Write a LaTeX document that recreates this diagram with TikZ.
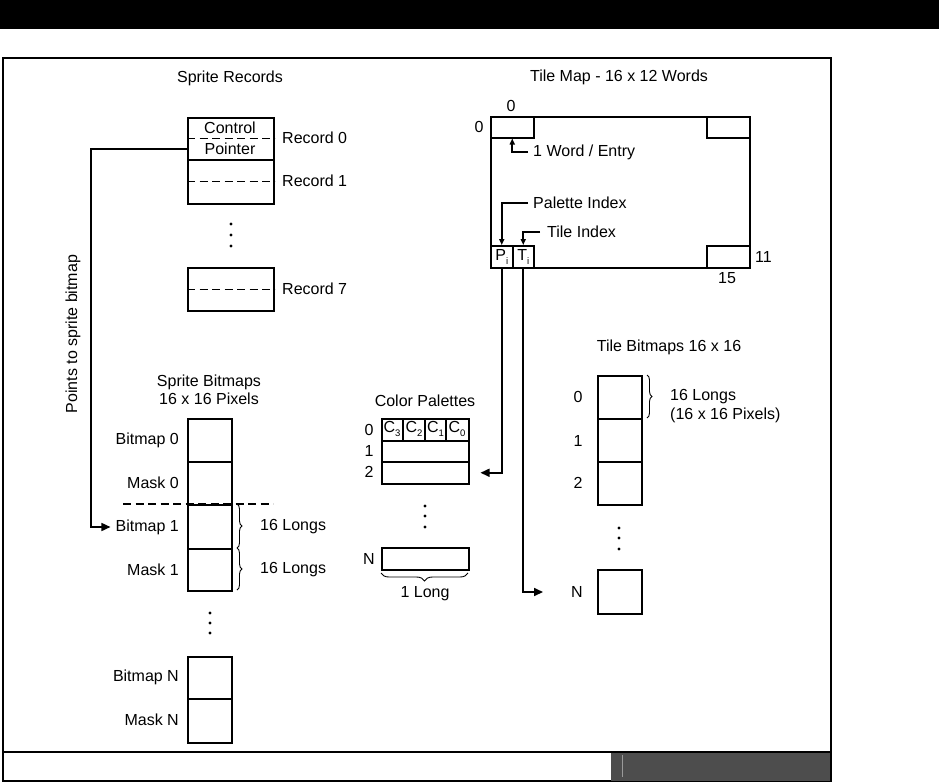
\documentclass[tikz,border=0pt]{standalone}
\usepackage{fontspec}
\setmainfont{Liberation Sans}
\usetikzlibrary{arrows.meta,decorations.pathreplacing}
\newcommand\subi[1]{\raisebox{-0.45ex}{\fontsize{9.5}{9.5}\selectfont #1}}
\definecolor{stripgray}{HTML}{4D4D4D}
\definecolor{stripline}{HTML}{9A9A9A}
\begin{document}
\begin{tikzpicture}[x=1pt,y=-1pt,
  cell/.style={draw, line width=1.5pt, inner sep=0pt, anchor=north west},
  lbl/.style={font=\fontsize{16}{18}\selectfont, inner sep=0pt},
  dashline/.style={line width=1.2pt, dash pattern=on 8pt off 4.5pt},
  conn/.style={line width=1.6pt, -{Triangle[length=9pt,width=8pt]}},
  sconn/.style={line width=1.6pt, -{Triangle[length=6pt,width=5pt]}},
  brace/.style={decorate, decoration={brace, amplitude=5pt}, line width=0.9pt},
  dot/.style={circle, fill, inner sep=0pt, minimum size=3.4pt}
]
\useasboundingbox (0,0) rectangle (939,782);
% header band and frame
\fill[black] (0,0) rectangle (939,29);
\draw[line width=1.5pt] (3,58) rectangle (831,781);
\fill[stripgray] (611,752) rectangle (831,781);
\draw[line width=1.5pt] (3,752) -- (831,752);
\draw[line width=1.5pt] (831,752) -- (831,781);
\draw[stripline, line width=1pt] (622,755) -- (622,777);

% ---------------- Sprite records
\node[lbl] (srtitle) at (230,78) {Sprite Records};
\node[cell, minimum width=86, minimum height=42] (r0) at (187,117) {};
\node[cell, minimum width=86, minimum height=44] (r1) at (187,159) {};
\draw[dashline] (r0.west) -- (r0.east);
\draw[dashline] (r1.west) -- (r1.east);
\node[lbl] (ctrl) at (230,127.5) {Control};
\node[lbl] (ptrtxt) at (230,149) {Pointer};
\node[lbl, anchor=west] (rec0) at (282,138) {Record 0};
\node[lbl, anchor=west] (rec1) at (282,181) {Record 1};
\node[dot] (rd1) at (231,224) {};
\node[dot] (rd2) at (231,235) {};
\node[dot] (rd3) at (231,246) {};
\node[cell, minimum width=86, minimum height=43] (r7) at (187,267) {};
\draw[dashline] (r7.west) -- (r7.east);
\node[lbl, anchor=west] (rec7) at (282,289) {Record 7};

\node[lbl, rotate=90] (ptsto) at (73,334) {Points to sprite bitmap};

% ---------------- Sprite bitmaps
\node[lbl, align=center] (sbtitle) at (209,390) {Sprite Bitmaps\\16 x 16 Pixels};
\node[cell, minimum width=44, minimum height=43] (sb0) at (187,418) {};
\node[cell, minimum width=44, minimum height=43] (sm0) at (187,461) {};
\node[cell, minimum width=44, minimum height=44] (sb1) at (187,504) {};
\node[cell, minimum width=44, minimum height=42] (sm1) at (187,548) {};
\node[lbl, anchor=east] (lsb0) at (179,440) {Bitmap 0};
\node[lbl, anchor=east] (lsm0) at (179,483) {Mask 0};
\node[lbl, anchor=east] (lsb1) at (179,527) {Bitmap 1};
\node[lbl, anchor=east] (lsm1) at (179,570) {Mask 1};
\draw[dashline] (123,504) -- (273,504);
\draw[brace] (237,504) -- (237,548);
\draw[brace] (237,548) -- (237,590);
\node[lbl, anchor=west] (l16a) at (260,527) {16 Longs};
\node[lbl, anchor=west] (l16b) at (260,570) {16 Longs};
\node[dot] (sd1) at (210,613) {};
\node[dot] (sd2) at (210,623) {};
\node[dot] (sd3) at (210,633) {};
\node[cell, minimum width=44, minimum height=42] (sbN) at (187,656) {};
\node[cell, minimum width=44, minimum height=44] (smN) at (187,698) {};
\node[lbl, anchor=east] (lsbN) at (179,677) {Bitmap N};
\node[lbl, anchor=east] (lsmN) at (179,720) {Mask N};

% pointer connector
\draw[line width=1.6pt, -{Triangle[length=9pt,width=8pt]}, shorten >=5pt]
  (r0.west |- ptrtxt) -- (91,149) |- (lsb1.west);

% ---------------- Tile map
\node[lbl] (tmtitle) at (619,77) {Tile Map - 16 x 12 Words};
\node[cell, minimum width=259, minimum height=151] (tmap) at (490,116) {};
\node[cell, minimum width=43, minimum height=21] (tl) at (490,116) {};
\node[cell, minimum width=43, minimum height=21] (tr) at (706,116) {};
\node[cell, minimum width=43, minimum height=22] (br) at (706,245) {};
\node[cell, minimum width=22, minimum height=22] (Pi) at (490,245) {};
\node[cell, minimum width=21, minimum height=22] (Ti) at (512,245) {};
\node[lbl] (pitxt) at (Pi.center) {P\subi{i}};
\node[lbl] (titxt) at (Ti.center) {T\subi{i}};
\node[lbl] (c0top) at (511,106) {0};
\node[lbl] (c0left) at (479,127) {0};
\node[lbl, anchor=west] (c11) at (755,257) {11};
\node[lbl] (c15) at (727,278) {15};
\node[lbl, anchor=west] (wtxt) at (533,152) {1 Word / Entry};
\node[lbl, anchor=west] (pitx) at (533,203) {Palette Index};
\node[lbl, anchor=west] (titx) at (547,232) {Tile Index};
\draw[sconn] ([xshift=-5pt]wtxt.west) -| (tl.south);
\draw[sconn] ([xshift=-5pt]pitx.west) -| (Pi.north);
\draw[sconn] ([xshift=-7pt]titx.west) -| (Ti.north);

% ---------------- Color palettes
\node[lbl] (cptitle) at (425,401) {Color Palettes};
\node[cell, minimum width=87, minimum height=22] (pal0) at (381,418) {};
\node[cell, minimum width=87, minimum height=21] (pal1) at (381,440) {};
\node[cell, minimum width=87, minimum height=22] (pal2) at (381,461) {};
\draw[line width=1.5pt] (403,418) -- (403,440);
\draw[line width=1.5pt] (425,418) -- (425,440);
\draw[line width=1.5pt] (446,418) -- (446,440);
\node[lbl] (c3) at (392,429) {C\subi{3}};
\node[lbl] (c2) at (414,429) {C\subi{2}};
\node[lbl] (c1) at (435.5,429) {C\subi{1}};
\node[lbl] (c0) at (457,429) {C\subi{0}};
\node[lbl] (p0) at (369,430) {0};
\node[lbl] (p1) at (369,451) {1};
\node[lbl] (p2) at (369,472) {2};
\node[dot] (pd1) at (425,506) {};
\node[dot] (pd2) at (425,516) {};
\node[dot] (pd3) at (425,527) {};
\node[cell, minimum width=87, minimum height=22] (palN) at (381,547) {};
\node[lbl] (pN) at (369,559) {N};
\draw[brace, decoration={amplitude=8pt}] (468,573) -- (381,573);
\node[lbl] (onelong) at (425,594) {1 Long};

% ---------------- Tile bitmaps
\node[lbl] (tbtitle) at (669,347) {Tile Bitmaps 16 x 16};
\node[cell, minimum width=44, minimum height=43] (tb0) at (597,375) {};
\node[cell, minimum width=44, minimum height=43] (tb1) at (597,418) {};
\node[cell, minimum width=44, minimum height=43] (tb2) at (597,461) {};
\node[lbl] (t0) at (578,397) {0};
\node[lbl] (t1) at (578,441) {1};
\node[lbl] (t2) at (578,483) {2};
\draw[brace] (647,375) -- (647,418);
\node[lbl, anchor=west] (tl16) at (670,397) {16 Longs};
\node[lbl, anchor=west] (tlpx) at (670,415) {(16 x 16 Pixels)};
\node[dot] (td1) at (619,528) {};
\node[dot] (td2) at (619,538) {};
\node[dot] (td3) at (619,549) {};
\node[cell, minimum width=44, minimum height=44] (tbN) at (597,569) {};
\node[lbl] (tN) at (577,592) {N};

% ---------------- index connectors
\draw[conn, shorten >=11pt] (Pi.south) |- (pal2.east);
\draw[conn, shorten >=28pt] (Ti.south) |- (tN.west);
\end{tikzpicture}
\end{document}
